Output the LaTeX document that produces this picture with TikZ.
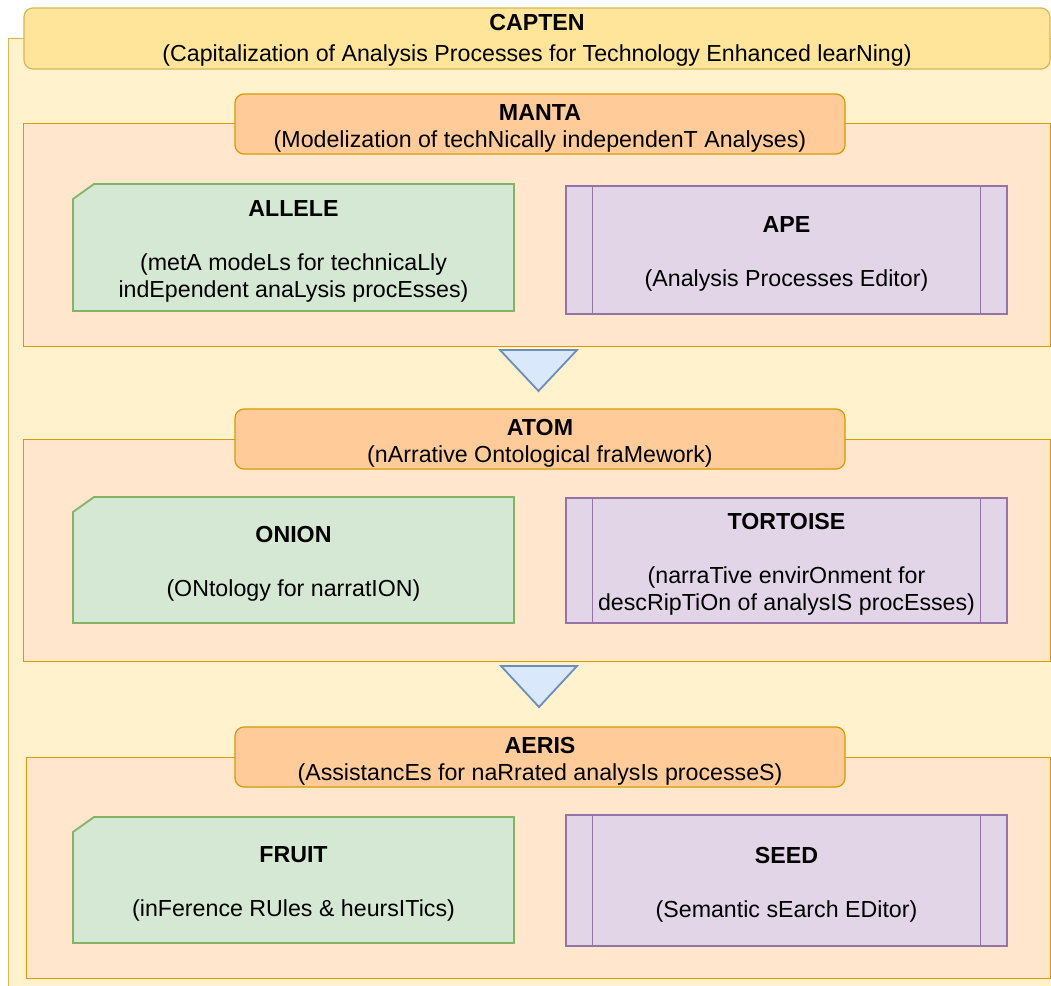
\documentclass[tikz,border=0pt]{standalone}
\usepackage{fontspec}
\setmainfont{Liberation Sans}

\definecolor{capfill}{HTML}{FFF2CC}
\definecolor{capline}{HTML}{D6B656}
\definecolor{captitle}{HTML}{FFE599}
\definecolor{subfill}{HTML}{FFE6CC}
\definecolor{subline}{HTML}{D79B00}
\definecolor{subtitle}{HTML}{FFCC99}
\definecolor{greenfill}{HTML}{D5E8D4}
\definecolor{greenline}{HTML}{82B366}
\definecolor{purplefill}{HTML}{E1D5E7}
\definecolor{purpleline}{HTML}{9673A6}
\definecolor{flowfill}{HTML}{DAE8FC}
\definecolor{flowline}{HTML}{6C8EBF}

\newcommand{\boxhead}[1]{\rule{0pt}{24.5pt}\textbf{#1}}

\begin{document}
\begin{tikzpicture}[x=1pt, y=-1pt,
    every node/.style={font=\fontsize{23.2}{27}\selectfont, align=center, inner sep=0pt},
    group/.style={draw=subline, fill=subfill, line width=1.2pt, anchor=north west},
    titlebox/.style={draw=subline, fill=subtitle, rounded corners=9pt, line width=1.2pt, minimum width=610pt, minimum height=60pt},
    model/.style={draw=greenline, fill=greenfill, line width=1.8pt, line join=miter},
    tool/.style={draw=purpleline, fill=purplefill, line width=1.2pt, minimum width=441pt, minimum height=128pt},
    flow/.style={draw=flowline, fill=flowfill, line width=1.8pt, line join=miter}]
    \useasboundingbox (0,0) rectangle (1051,985);
    \clip (0,0) rectangle (1051,985);

    % CAPTEN
    \node[draw=capline, fill=capfill, line width=1.2pt, anchor=north west, minimum width=1100pt, minimum height=1000pt] (capten group) at (8,38) {};
    \node[draw=capline, fill=captitle, rounded corners=9pt, line width=1.2pt, minimum width=1026pt, minimum height=61pt] (capten) at (537,38.5) {\rule{0pt}{19pt}\textbf{CAPTEN}\\[4pt](Capitalization of Analysis Processes for Technology Enhanced learNing)};

    % MANTA
    \node[group, minimum width=1027pt, minimum height=223pt] (manta group) at (23,123) {};
    \node[titlebox] (manta) at (540,124) {\boxhead{MANTA}\\(Modelization of techNically independenT Analyses)};
    \draw[model] (94,184) -- (514,184) -- (514,311) -- (73,311) -- (73,199) -- cycle; %allele
    \node[minimum width=441pt, minimum height=127pt] (allele) at (293.5,247.5) {\boxhead{ALLELE}\\[27pt](metA modeLs for technicaLly\\indEpendent anaLysis procEsses)};
    \node[tool] (ape) at (786.5,250) {\boxhead{APE}\\[27pt](Analysis Processes Editor)};

    \draw[flow] (500,350) -- (577,350) -- (538.5,391) -- cycle;

    % ATOM
    \node[group, minimum width=1027pt, minimum height=222pt] (atom group) at (23,439) {};
    \node[titlebox] (atom) at (540,439) {\boxhead{ATOM}\\(nArrative Ontological fraMework)};
    \draw[model] (94,497) -- (514,497) -- (514,623) -- (73,623) -- (73,512) -- cycle; %onion
    \node[minimum width=441pt, minimum height=126pt] (onion) at (293.5,560) {\boxhead{ONION}\\[27pt](ONtology for narratION)};
    \node[tool, minimum height=125pt] (tortoise) at (786.5,560.5) {\boxhead{TORTOISE}\\[27pt](narraTive envirOnment for\\descRipTiOn of analysIS procEsses)};

    \draw[flow] (501,666) -- (577,666) -- (539,707) -- cycle;

    % AERIS
    \node[group, minimum width=1024pt, minimum height=221pt] (aeris group) at (26,757) {};
    \node[titlebox] (aeris) at (540,757) {\boxhead{AERIS}\\(AssistancEs for naRrated analysIs processeS)};
    \draw[model] (94,817) -- (514,817) -- (514,943) -- (73,943) -- (73,832) -- cycle; %fruit
    \node[minimum width=441pt, minimum height=126pt] (fruit) at (293.5,880) {\boxhead{FRUIT}\\[27pt](inFerence RUles \& heursITics)};
    \node[tool, minimum height=131pt] (seed) at (786.5,880.5) {\boxhead{SEED}\\[27pt](Semantic sEarch EDitor)};

    \foreach \n in {ape,tortoise,seed} {
        \draw[draw=purpleline, line width=1.2pt] ([xshift=27pt]\n.north west) -- ([xshift=27pt]\n.south west);
        \draw[draw=purpleline, line width=1.2pt] ([xshift=-27pt]\n.north east) -- ([xshift=-27pt]\n.south east);
    }
\end{tikzpicture}
\end{document}
